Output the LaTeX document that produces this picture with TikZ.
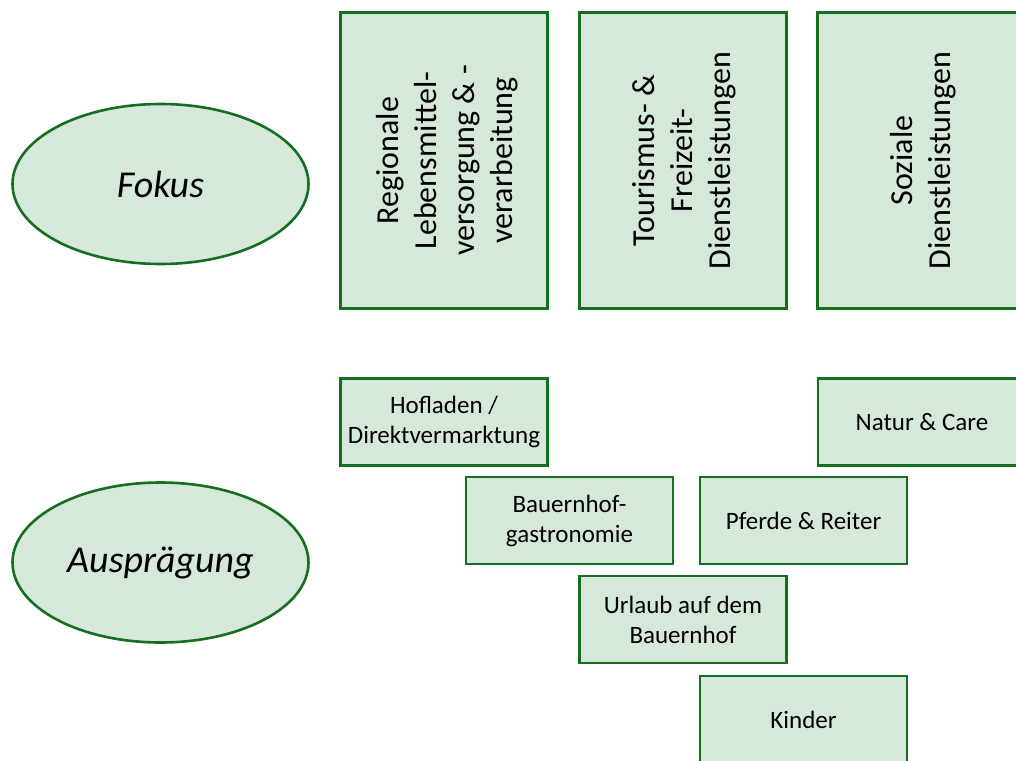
\documentclass[tikz,border=0pt]{standalone}
\usepackage{fontspec}
\setmainfont{Carlito}
\usetikzlibrary{shapes.geometric}
\definecolor{boxfill}{RGB}{214,232,217}
\definecolor{boxline}{RGB}{22,110,32}
\tikzset{
  base/.style={draw=boxline, fill=boxfill, line width=2.6pt},
  focusbox/.style={base, rectangle, minimum width=207pt, minimum height=296pt, inner sep=0pt},
  focustext/.style={rotate=90, font=\fontsize{32}{38}\selectfont, align=center, inner sep=0pt},
  itemfont/.style={font=\fontsize{25}{30}\selectfont, align=center},
  itembox/.style={base, rectangle, minimum width=207pt, minimum height=87pt, inner sep=0pt, itemfont},
  oval/.style={base, ellipse, minimum width=296pt, minimum height=160pt, inner sep=0pt,
    font=\fontsize{38}{44}\selectfont\itshape},
}
\begin{document}
\begin{tikzpicture}[x=1pt, y=-1pt]
\useasboundingbox (0,0) rectangle (1016,760);
\clip (0,0) rectangle (1016,760);
% left-hand category labels
\node[oval] (fokus) at (160.5,184) {Fokus};
\node[oval] (auspr) at (160.5,562.5) {Ausprägung};
% three focus areas
\node[focusbox] (lebens) at (444,160.5) {};
\node[focustext] (lebenstxt) at (447,160.5)
  {Regionale\\Lebensmittel-\\versorgung \& -\\verarbeitung};
\node[focusbox] (tour) at (683,160.5) {};
\node[focustext] (tourtxt) at (684,160.5)
  {Tourismus- \&\\Freizeit-\\Dienstleistungen};
\node[focusbox, minimum width=230pt] (sozial) at (932.5,160.5) {};
\node[focustext] (sozialtxt) at (923,160.5)
  {Soziale\\Dienstleistungen};
% characteristics
\node[itembox] (hof) at (444,422) {Hofladen /\\Direktvermarktung};
\node[itembox, minimum width=230pt] (natur) at (933,422) {};
\node[itemfont] (naturtxt) at (922,422) {Natur \& Care};
\node[itembox] (gastro) at (569.5,520.5) {Bauernhof-\\gastronomie};
\node[itembox] (pferde) at (803.5,520.5) {Pferde \& Reiter};
\node[itembox] (urlaub) at (683,619.5) {Urlaub auf dem\\Bauernhof};
\node[itembox, minimum height=110pt] (kinder) at (803.5,731) {};
\node[itemfont] (kindertxt) at (803.5,720) {Kinder};
\end{tikzpicture}
\end{document}
